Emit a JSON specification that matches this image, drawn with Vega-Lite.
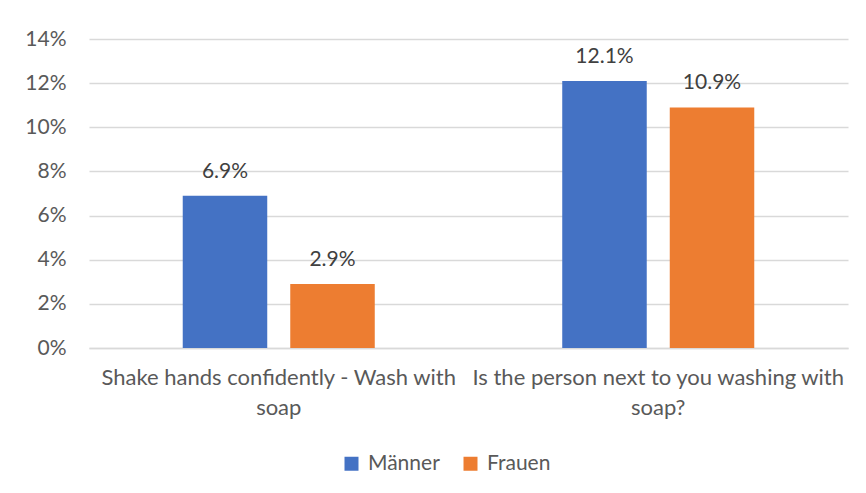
{
  "$schema": "https://vega.github.io/schema/vega-lite/v6.json",
  "width": 759,
  "height": 309,
  "autosize": "none",
  "padding": {"left": 89, "top": 39, "right": 18, "bottom": 145},
  "background": "white",
  "config": {
    "font": "Lato",
    "view": {"stroke": null},
    "axis": {"labelColor": "#595959", "labelFont": "Lato", "titleColor": "#595959"}
  },
  "data": {
    "values": [
      {"cat": "Shake hands confidently - Wash with soap", "sex": "Männer", "v": 0.069},
      {"cat": "Shake hands confidently - Wash with soap", "sex": "Frauen", "v": 0.029},
      {"cat": "Is the person next to you washing with soap?", "sex": "Männer", "v": 0.121},
      {"cat": "Is the person next to you washing with soap?", "sex": "Frauen", "v": 0.109}
    ]
  },
  "encoding": {
    "x": {
      "field": "cat", "type": "nominal", "sort": null, "title": null,
      "scale": {"paddingInner": 0.494, "paddingOuter": 0.247},
      "axis": {
        "labelAngle": 0, "ticks": false, "domain": true, "domainColor": "#d9d9d9", "domainWidth": 1.5,
        "labelFontSize": 22, "labelPadding": 19, "labelLineHeight": 30, "labelLimit": 0,
        "labelExpr": "datum.label == 'Shake hands confidently - Wash with soap' ? ['Shake hands confidently - Wash with', 'soap'] : ['Is the person next to you washing with', 'soap?']"
      }
    },
    "xOffset": {"field": "sex", "type": "nominal", "sort": ["Männer", "Frauen"], "scale": {"paddingInner": 0.214, "paddingOuter": 0}},
    "y": {
      "field": "v", "type": "quantitative", "title": null,
      "scale": {"domain": [0, 0.14], "nice": false},
      "axis": {
        "values": [0, 0.02, 0.04, 0.06, 0.08, 0.1, 0.12, 0.14], "format": ".0%",
        "ticks": false, "domain": false, "gridColor": "#d9d9d9", "gridWidth": 1.5,
        "labelFontSize": 21, "labelPadding": 23
      }
    }
  },
  "layer": [
    {
      "mark": {"type": "bar"},
      "encoding": {
        "color": {
          "field": "sex", "type": "nominal", "sort": ["Männer", "Frauen"],
          "scale": {"domain": ["Männer", "Frauen"], "range": ["#4472C4", "#ED7D31"]},
          "legend": {
            "title": null, "orient": "none", "direction": "horizontal",
            "legendX": 252, "legendY": 414,
            "symbolType": "square", "symbolSize": 196, "symbolStrokeWidth": 0,
            "labelFontSize": 21, "labelColor": "#595959", "labelFont": "Lato",
            "columnPadding": 20, "labelOffset": 6
          }
        }
      }
    },
    {
      "mark": {"type": "text", "baseline": "alphabetic", "dy": -18, "fontSize": 21, "color": "#404040", "font": "Lato"},
      "encoding": {
        "text": {"field": "v", "type": "quantitative", "format": ".1%"}
      }
    }
  ]
}
